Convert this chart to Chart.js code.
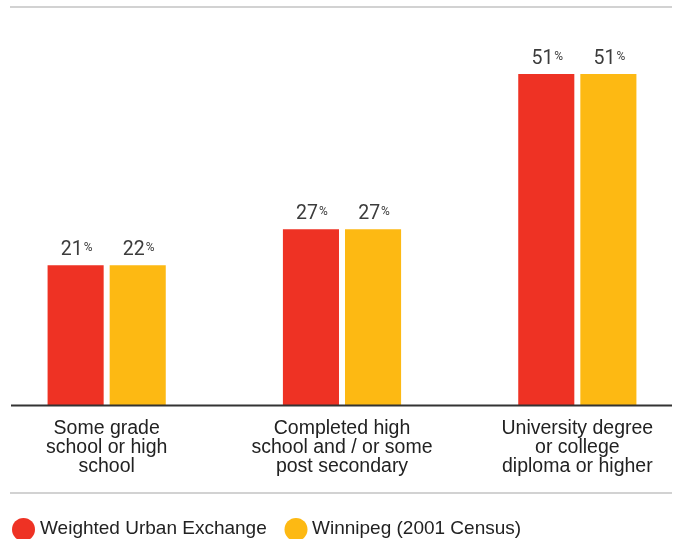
<!DOCTYPE html>
<html>
<head>
<meta charset="utf-8">
<script src="https://cdn.jsdelivr.net/npm/chart.js@4/dist/chart.umd.min.js"></script>
<style>
  html, body { margin: 0; padding: 0; background: #fff; overflow: hidden; }
  #wrap { position: relative; width: 685px; height: 539px; overflow: hidden; }
  #chart { position: absolute; left: -11px; top: 0; }
</style>
</head>
<body>
<div id="wrap"><canvas id="chart" width="706" height="539"></canvas></div>
<script>
// categories and series
const categories = [
    ["Some grade", "school or high", "school"],
    ["Completed high", "school and / or some", "post secondary"],
    ["University degree", "or college", "diploma or higher"],
];
const seriesNames = ["Weighted Urban Exchange", "Winnipeg (2001 Census)"];
const urbanExchange = [21.5, 27, 50.7];
const winnipeg = [21.5, 27, 50.7];
// printed labels (rounded in the source)
const urbanLabels = ["21", "27", "51"];
const winnipegLabels = ["22", "27", "51"];

const RED = "#ee3224";
const YELLOW = "#fdb913";
const SHIFT = 11; // canvas sits 11px left of the page

const px = x => x + SHIFT;

const decorPlugin = {
    id: "decor",
    afterDatasetsDraw(chart) {
        const ctx = chart.ctx;
        const area = chart.chartArea;
        ctx.save();

        // rules
        ctx.fillStyle = "#d2d2d2";
        ctx.fillRect(px(10), 6, 662, 2);
        ctx.fillRect(px(10), 492, 662, 2);
        ctx.fillStyle = "#333";
        ctx.fillRect(px(11), area.bottom - 1.5, 661, 2);

        // value labels
        const labelSets = [urbanLabels, winnipegLabels];
        chart.data.datasets.forEach((ds, i) => {
            const meta = chart.getDatasetMeta(i);
            meta.data.forEach((bar, j) => {
                const num = labelSets[i][j];
                ctx.font = "19.5px Roboto";
                const nw = ctx.measureText(num).width;
                ctx.font = "12px Roboto";
                const pw = ctx.measureText("%").width;
                const x0 = bar.x - (nw + pw + 1) / 2 + 1;
                const y = bar.y - 10;
                ctx.fillStyle = "#3c3c3c";
                ctx.textBaseline = "alphabetic";
                ctx.textAlign = "left";
                ctx.font = "19.5px Roboto";
                ctx.fillText(num, x0, y);
                ctx.font = "12px Roboto";
                ctx.fillText("%", x0 + nw + 1, y - 4);
            });
        });

        // legend
        const items = [
            { x: 23.5, tx: 40, color: RED, text: seriesNames[0] },
            { x: 296, tx: 312, color: YELLOW, text: seriesNames[1] },
        ];
        items.forEach(it => {
            ctx.fillStyle = it.color;
            ctx.beginPath();
            ctx.arc(px(it.x), 529.5, 11.5, 0, Math.PI * 2);
            ctx.fill();
            ctx.fillStyle = "#222";
            ctx.font = "19px 'Liberation Sans'";
            ctx.textBaseline = "alphabetic";
            ctx.fillText(it.text, px(it.tx), 534);
        });

        ctx.restore();
    }
};

new Chart(document.getElementById("chart"), {
    type: "bar",
    data: {
        labels: categories,
        datasets: [
            { label: seriesNames[0], data: urbanExchange, backgroundColor: RED },
            { label: seriesNames[1], data: winnipeg, backgroundColor: YELLOW },
        ],
    },
    options: {
        responsive: false,
        animation: false,
        layout: { padding: { top: 13, left: 0, right: 0, bottom: 0 } },
        datasets: {
            bar: { categoryPercentage: 0.5277, barPercentage: 0.9032, borderWidth: 0 }
        },
        plugins: { legend: { display: false }, tooltip: { enabled: false } },
        scales: {
            x: {
                grid: { display: false },
                border: { display: false },
                ticks: {
                    color: "#222",
                    padding: 5,
                    maxRotation: 0,
                    autoSkip: false,
                    font: { family: "'Liberation Sans'", size: 19.5, lineHeight: 0.97 },
                },
                afterFit(scale) { scale.height = 133; },
            },
            y: { display: false, min: 0, max: 60 },
        },
    },
    plugins: [decorPlugin],
});
</script>
</body>
</html>
